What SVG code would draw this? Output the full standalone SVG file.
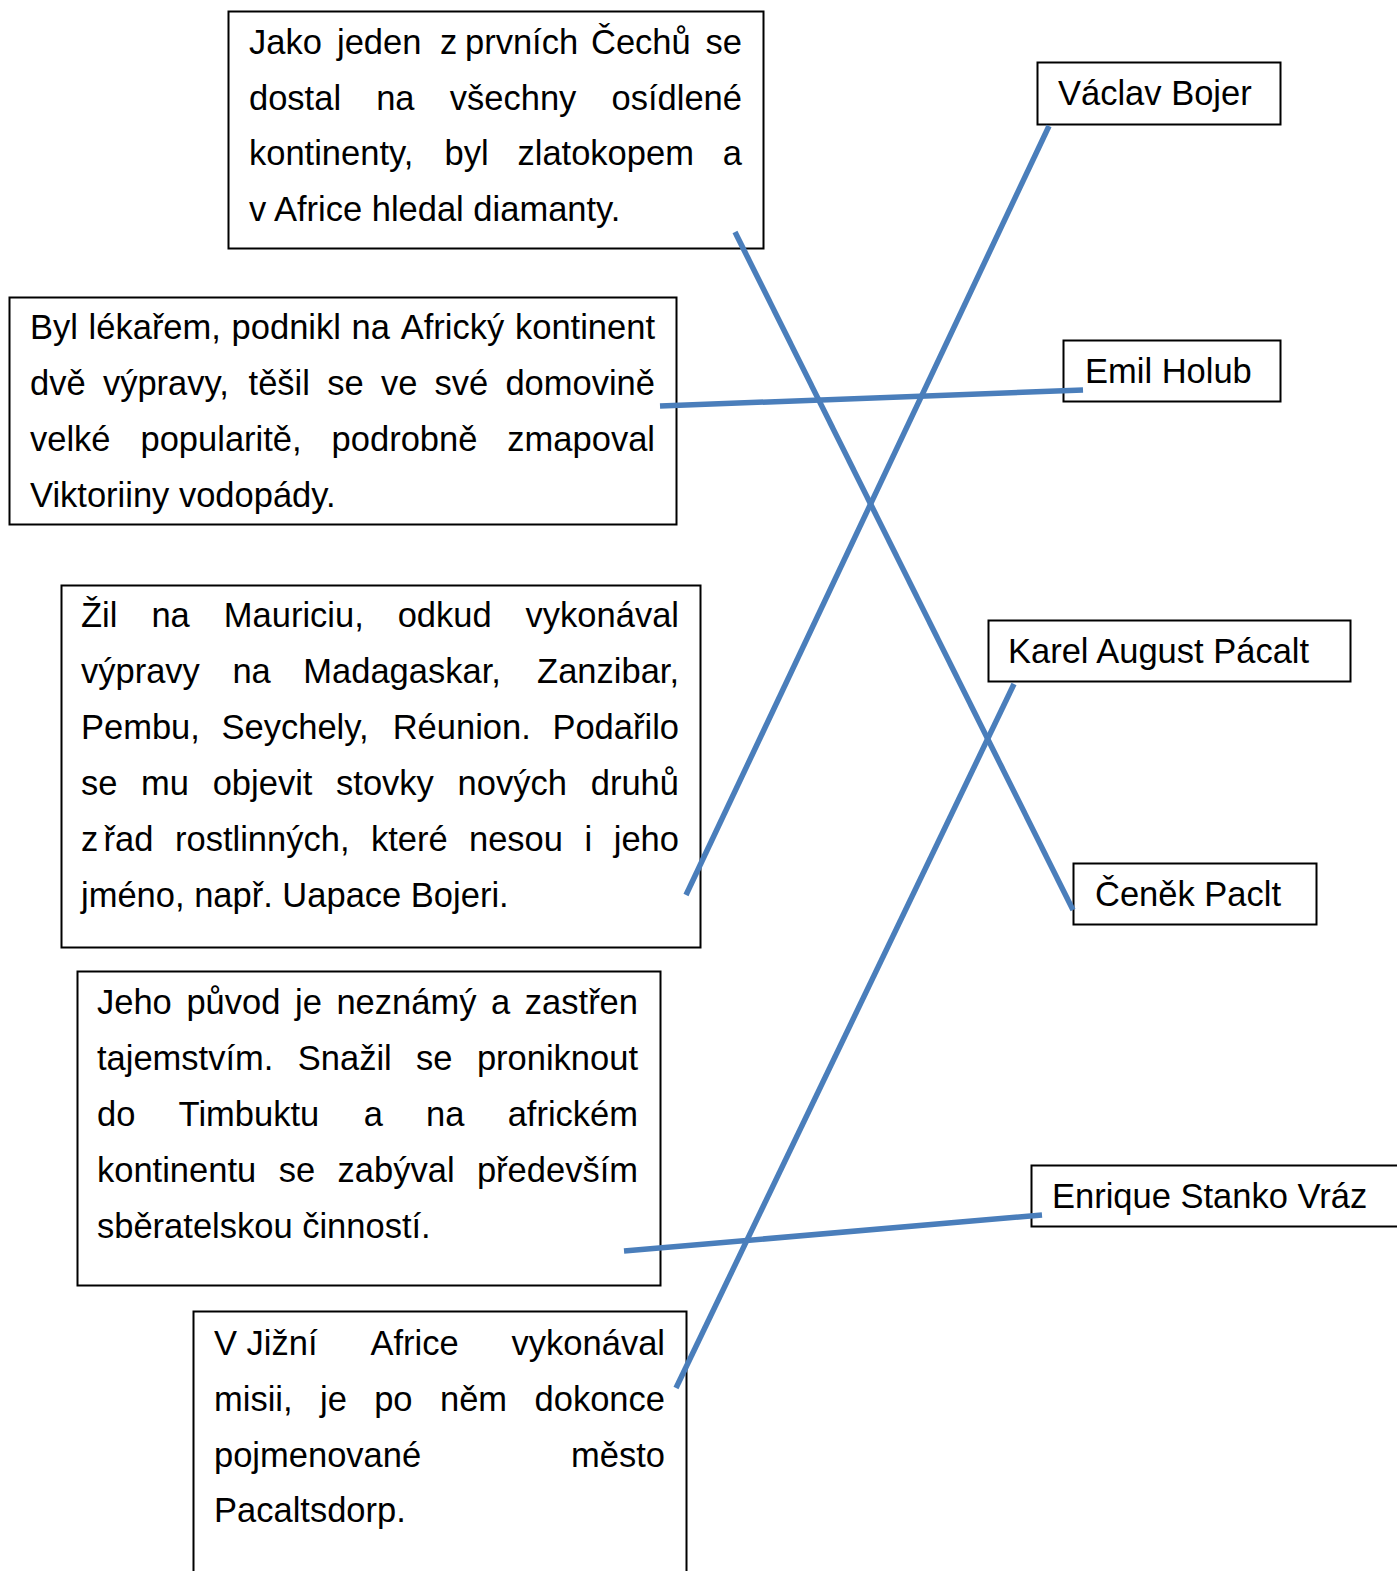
<svg xmlns="http://www.w3.org/2000/svg" width="1397" height="1571" viewBox="0 0 1397 1571">
<style>
.box{fill:#fff;stroke:#000;stroke-width:2}
.t{font-family:"Liberation Sans",Arial,sans-serif;font-size:34.5px;fill:#000}
.e{text-anchor:end}
.c{stroke:#4a7ebb;stroke-width:5.5;fill:none}
</style>
<rect width="1397" height="1571" fill="#fff"/>
<g id="descA">
<rect class="box" x="228.5" y="11.5" width="535" height="237"/>
<text class="t" y="54"><tspan x="249">Jako</tspan><tspan x="337">jeden</tspan><tspan x="440">z</tspan><tspan x="465">prvních</tspan><tspan x="591">Čechů</tspan></text>
<text class="t e" x="742" y="54">se</text>
<text class="t" y="110"><tspan x="249">dostal</tspan><tspan x="376.2">na</tspan><tspan x="449.8">všechny</tspan></text>
<text class="t e" x="742" y="110">osídlené</text>
<text class="t" y="165"><tspan x="249">kontinenty,</tspan><tspan x="444.6">byl</tspan><tspan x="517.5">zlatokopem</tspan></text>
<text class="t e" x="742" y="165">a</text>
<text class="t" x="249" y="221">v Africe hledal diamanty.</text>
</g>
<g id="descB">
<rect class="box" x="9.5" y="297.5" width="667" height="227"/>
<text class="t" y="339"><tspan x="30">Byl</tspan><tspan x="88.6">lékařem,</tspan><tspan x="231.6">podnikl</tspan><tspan x="351.6">na</tspan><tspan x="400.7">Africký</tspan></text>
<text class="t e" x="655" y="339">kontinent</text>
<text class="t" y="395"><tspan x="30">dvě</tspan><tspan x="102.9">výpravy,</tspan><tspan x="248.6">těšil</tspan><tspan x="327.2">se</tspan><tspan x="380.9">ve</tspan><tspan x="434.6">své</tspan></text>
<text class="t e" x="655" y="395">domovině</text>
<text class="t" y="451"><tspan x="30">velké</tspan><tspan x="140.5">popularitě,</tspan><tspan x="331.6">podrobně</tspan></text>
<text class="t e" x="655" y="451">zmapoval</text>
<text class="t" x="30" y="507">Viktoriiny vodopády.</text>
</g>
<g id="descC">
<rect class="box" x="61.5" y="585.5" width="639" height="362"/>
<text class="t" y="627"><tspan x="81">Žil</tspan><tspan x="151.4">na</tspan><tspan x="223.8">Mauriciu,</tspan><tspan x="397.7">odkud</tspan></text>
<text class="t e" x="679" y="627">vykonával</text>
<text class="t" y="683"><tspan x="81">výpravy</tspan><tspan x="232.4">na</tspan><tspan x="303.3">Madagaskar,</tspan></text>
<text class="t e" x="679" y="683">Zanzibar,</text>
<text class="t" y="739"><tspan x="81">Pembu,</tspan><tspan x="221.5">Seychely,</tspan><tspan x="392.7">Réunion.</tspan></text>
<text class="t e" x="679" y="739">Podařilo</text>
<text class="t" y="795"><tspan x="81">se</tspan><tspan x="141.1">mu</tspan><tspan x="212.7">objevit</tspan><tspan x="336.1">stovky</tspan><tspan x="457.6">nových</tspan></text>
<text class="t e" x="679" y="795">druhů</text>
<text class="t" y="851"><tspan x="81">z</tspan><tspan x="103.5">řad</tspan><tspan x="175">rostlinných,</tspan><tspan x="371">které</tspan><tspan x="469">nesou</tspan><tspan x="584.5">i</tspan></text>
<text class="t e" x="679" y="851">jeho</text>
<text class="t" x="81" y="907">jméno, např. Uapace Bojeri.</text>
</g>
<g id="descD">
<rect class="box" x="77.5" y="971.5" width="583" height="314"/>
<text class="t" y="1014"><tspan x="97">Jeho</tspan><tspan x="186.4">původ</tspan><tspan x="295">je</tspan><tspan x="336.4">neznámý</tspan><tspan x="491">a</tspan></text>
<text class="t e" x="638" y="1014">zastřen</text>
<text class="t" y="1070"><tspan x="97">tajemstvím.</tspan><tspan x="297.8">Snažil</tspan><tspan x="416.1">se</tspan></text>
<text class="t e" x="638" y="1070">proniknout</text>
<text class="t" y="1126"><tspan x="97">do</tspan><tspan x="178.6">Timbuktu</tspan><tspan x="363.7">a</tspan><tspan x="426.1">na</tspan></text>
<text class="t e" x="638" y="1126">africkém</text>
<text class="t" y="1182"><tspan x="97">kontinentu</tspan><tspan x="278.7">se</tspan><tspan x="337.6">zabýval</tspan></text>
<text class="t e" x="638" y="1182">především</text>
<text class="t" x="97" y="1238">sběratelskou činností.</text>
</g>
<g id="descE">
<rect class="box" x="193.5" y="1311.5" width="493" height="275"/>
<text class="t" y="1355"><tspan x="214">V</tspan><tspan x="246.6">Jižní</tspan><tspan x="370.5">Africe</tspan></text>
<text class="t e" x="665" y="1355">vykonával</text>
<text class="t" y="1411"><tspan x="214">misii,</tspan><tspan x="320">je</tspan><tspan x="374.2">po</tspan><tspan x="440">něm</tspan></text>
<text class="t e" x="665" y="1411">dokonce</text>
<text class="t" x="214" y="1467">pojmenované</text>
<text class="t e" x="665" y="1467">město</text>
<text class="t" x="214" y="1522">Pacaltsdorp.</text>
</g>
<g id="nameBojer">
<rect class="box" x="1037.5" y="62.5" width="243" height="62"/>
<text class="t" x="1058" y="105">Václav Bojer</text>
</g>
<g id="nameHolub">
<rect class="box" x="1063.5" y="340.5" width="217" height="61"/>
<text class="t" x="1085" y="383">Emil Holub</text>
</g>
<g id="namePacalt">
<rect class="box" x="988.5" y="620.5" width="362" height="61"/>
<text class="t" x="1008" y="663">Karel August Pácalt</text>
</g>
<g id="namePaclt">
<rect class="box" x="1073.5" y="863.5" width="243" height="61"/>
<text class="t" x="1095" y="906">Čeněk Paclt</text>
</g>
<g id="nameVraz">
<rect class="box" x="1031.5" y="1165.5" width="380" height="61"/>
<text class="t" x="1052" y="1208">Enrique Stanko Vráz</text>
</g>
<g id="connectors">
<line class="c" x1="735" y1="232" x2="1073" y2="910"/>
<line class="c" x1="660" y1="406" x2="1083" y2="390"/>
<line class="c" x1="686" y1="895" x2="1049" y2="126"/>
<line class="c" x1="624" y1="1251" x2="1042" y2="1215"/>
<line class="c" x1="676" y1="1388" x2="1014" y2="684"/>
</g>
</svg>
